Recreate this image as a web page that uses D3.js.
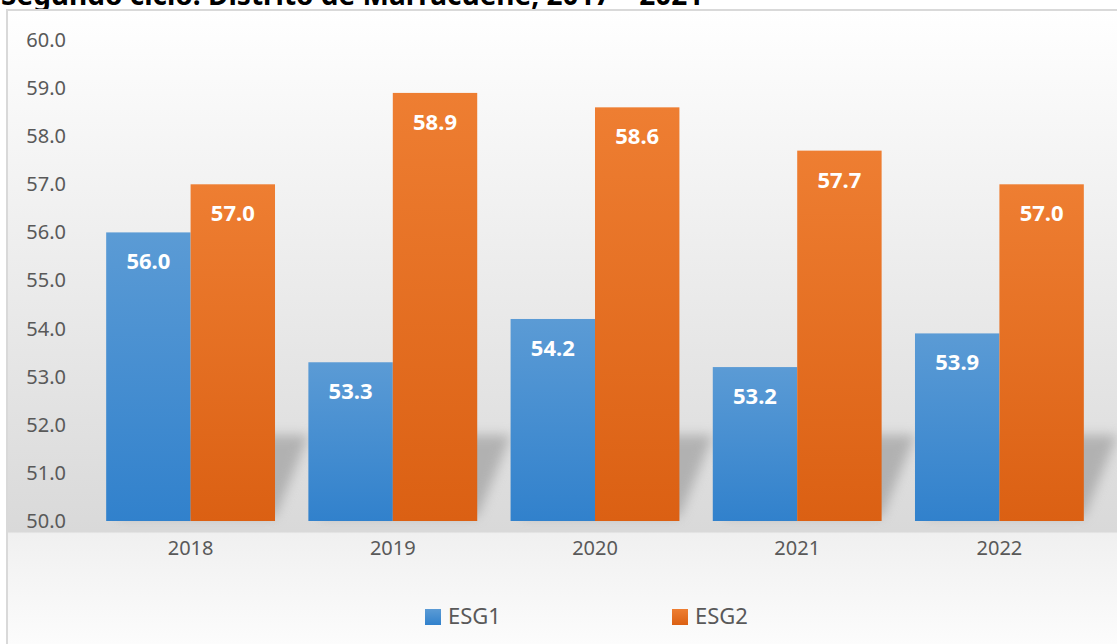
<!DOCTYPE html>
<html>
<head>
<meta charset="utf-8">
<script src="https://cdn.jsdelivr.net/npm/d3@7"></script>
<style>
  html, body { margin: 0; padding: 0; background: #fff; }
  svg { display: block; }
</style>
</head>
<body>
<div id="chart"></div>
<script>
// Chart data
const years = ['2018', '2019', '2020', '2021', '2022']
const esg1 = [56.0, 53.3, 54.2, 53.2, 53.9]
const esg2 = [57.0, 58.9, 58.6, 57.7, 57.0]
const seriesNames = ['ESG1', 'ESG2']
const yTicks = [50, 51, 52, 53, 54, 55, 56, 57, 58, 59, 60]
const titleText = 'Segundo ciclo: Distrito de Marracuene, 2017 – 2021'

const width = 1117, height = 644
const margin = { top: 40, right: 17, bottom: 123, left: 90 }
const font = '"Noto Sans", "Open Sans", sans-serif'

const svg = d3.select('#chart')
  .append('svg')
  .attr('width', width)
  .attr('height', height)

const defs = svg.append('defs')

// background gradient: white at top, grey near the axis, light again below
const bg = defs.append('linearGradient')
  .attr('id', 'bg').attr('x1', 0).attr('y1', 0).attr('x2', 0).attr('y2', 1)
bg.append('stop').attr('offset', '0%').attr('stop-color', '#ffffff')
bg.append('stop').attr('offset', '81%').attr('stop-color', '#d9d9d9')
bg.append('stop').attr('offset', '81.3%').attr('stop-color', '#f0f0f0')
bg.append('stop').attr('offset', '100%').attr('stop-color', '#fdfdfd')

const blueGrad = defs.append('linearGradient')
  .attr('id', 'blue').attr('x1', 0).attr('y1', 0).attr('x2', 0).attr('y2', 1)
blueGrad.append('stop').attr('offset', '0%').attr('stop-color', '#5b9bd5')
blueGrad.append('stop').attr('offset', '100%').attr('stop-color', '#3181cc')

const orangeGrad = defs.append('linearGradient')
  .attr('id', 'orange').attr('x1', 0).attr('y1', 0).attr('x2', 0).attr('y2', 1)
orangeGrad.append('stop').attr('offset', '0%').attr('stop-color', '#ee7e32')
orangeGrad.append('stop').attr('offset', '100%').attr('stop-color', '#db6013')

const blur = defs.append('filter').attr('id', 'blur')
  .attr('x', '-50%').attr('y', '-50%').attr('width', '200%').attr('height', '200%')
blur.append('feGaussianBlur').attr('stdDeviation', 6)

const fills = ['url(#blue)', 'url(#orange)']

// title, clipped by the top of the page as in the source image
svg.append('text')
  .attr('x', 1)
  .attr('y', 5)
  .attr('font-family', font)
  .attr('font-weight', 'bold')
  .attr('font-size', '28px')
  .attr('fill', '#000')
  .text(titleText)

// chart frame
svg.append('rect')
  .attr('x', 7)
  .attr('y', 10)
  .attr('width', width)
  .attr('height', height)
  .attr('fill', 'url(#bg)')
  .attr('stroke', '#d9d9d9')
  .attr('stroke-width', 2)

const x0 = d3.scaleBand()
  .domain(years)
  .range([margin.left, width - margin.right])
  .paddingInner(0.165)
  .paddingOuter(0.08)

const x1 = d3.scaleBand()
  .domain(seriesNames)
  .range([0, x0.bandwidth()])

const y = d3.scaleLinear()
  .domain([50, 60])
  .range([height - margin.bottom, margin.top])

const rows = years.map((yr, i) => ({ year: yr, values: [esg1[i], esg2[i]] }))

// soft ground shadows behind each group
svg.append('g')
  .selectAll('polygon')
  .data(rows)
  .enter()
  .append('polygon')
  .attr('points', d => {
    const a = x0(d.year), b = a + x0.bandwidth(), base = y(50) - 4
    return [[a + 10, base], [b, base], [b + 34, base - 82], [a + 44, base - 82]]
      .map(p => p.join(',')).join(' ')
  })
  .attr('fill', '#9a9a9a')
  .attr('opacity', 0.65)
  .attr('filter', 'url(#blur)')

// bars
const groups = svg.append('g')
  .selectAll('g')
  .data(rows)
  .enter()
  .append('g')
  .attr('transform', d => `translate(${x0(d.year)},0)`)

groups.selectAll('rect')
  .data(d => d.values.map((v, k) => ({ key: seriesNames[k], value: v, k })))
  .enter()
  .append('rect')
  .attr('x', d => x1(d.key))
  .attr('y', d => y(d.value))
  .attr('width', x1.bandwidth())
  .attr('height', d => y(50) - y(d.value))
  .attr('fill', d => fills[d.k])

groups.selectAll('text')
  .data(d => d.values.map((v, k) => ({ key: seriesNames[k], value: v })))
  .enter()
  .append('text')
  .attr('x', d => x1(d.key) + x1.bandwidth() / 2)
  .attr('y', d => y(d.value) + 37)
  .attr('text-anchor', 'middle')
  .attr('font-family', font)
  .attr('font-weight', 'bold')
  .attr('font-size', '22px')
  .attr('fill', '#fff')
  .text(d => d.value.toFixed(1))

// y axis labels
const yAxis = svg.append('g')
  .attr('transform', `translate(${margin.left - 24},0)`)
  .call(d3.axisLeft(y).tickValues(yTicks).tickSize(0).tickPadding(0).tickFormat(d => d.toFixed(1)))
yAxis.select('.domain').remove()
yAxis.selectAll('text')
  .attr('font-family', font)
  .attr('font-size', '20px')
  .attr('fill', '#595959')

// x axis labels
const xAxis = svg.append('g')
  .attr('transform', `translate(0,${y(50)})`)
  .call(d3.axisBottom(x0).tickSize(0).tickPadding(20))
xAxis.select('.domain').remove()
xAxis.selectAll('text')
  .attr('font-family', font)
  .attr('font-size', '20px')
  .attr('fill', '#595959')

// legend
const legendX = [425, 672]
const legend = svg.append('g')
  .selectAll('g')
  .data(seriesNames)
  .enter()
  .append('g')
  .attr('transform', (d, i) => `translate(${legendX[i]},609)`)

legend.append('rect')
  .attr('width', 16)
  .attr('height', 16)
  .attr('fill', (d, i) => fills[i])

legend.append('text')
  .attr('x', 23)
  .attr('y', 15)
  .attr('font-family', font)
  .attr('font-size', '22px')
  .attr('fill', '#595959')
  .text(d => d)
</script>
</body>
</html>
